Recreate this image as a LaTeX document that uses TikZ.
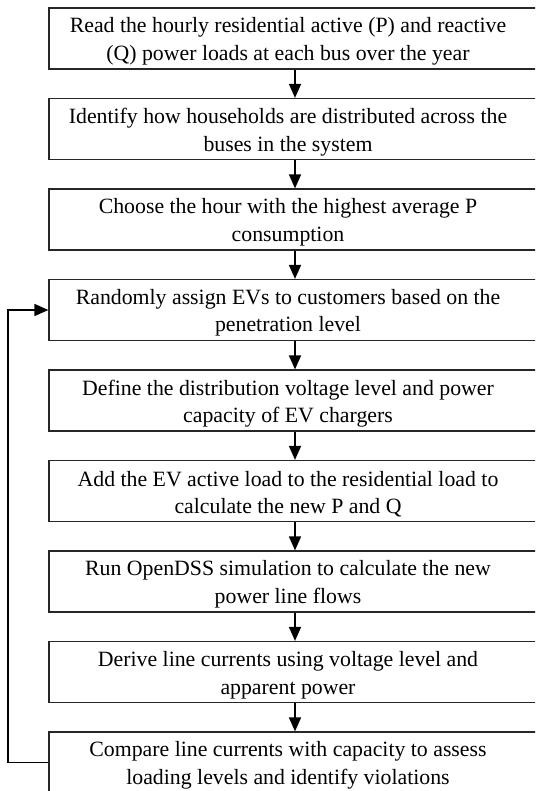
\documentclass[tikz,border=0pt]{standalone}
\usepackage{fontspec}
\setmainfont{Liberation Serif}
\usetikzlibrary{arrows.meta}
\begin{document}
\begin{tikzpicture}[x=1pt,y=1pt,
  stepbox/.style={draw=black!85,line width=1.2pt,minimum width=492pt,minimum height=61pt,
    inner sep=0pt},
  steptext/.style={align=center,inner sep=0pt,xshift=-7pt,yshift=-3pt,font=\fontsize{21.8}{27.5}\selectfont},
  flow/.style={line width=1.6pt,-{Triangle[width=12pt,length=14pt]}}]
\useasboundingbox (0,0) rectangle (535,-791);
\clip (0,0) rectangle (535,-791);
\fill[white] (0,0) rectangle (535,-791);
\node[stepbox,label={[steptext]center:Read the hourly residential active (P) and reactive\\(Q) power loads at each bus over the year}] (b1) at (295,-38.5) {};
\node[stepbox,label={[steptext]center:Identify how households are distributed across the\\buses in the system}] (b2) at (295,-129) {};
\node[stepbox,label={[steptext]center:Choose the hour with the highest average P\\consumption}] (b3) at (295,-219.5) {};
\node[stepbox,label={[steptext]center:Randomly assign EVs to customers based on the\\penetration level}] (b4) at (295,-310) {};
\node[stepbox,label={[steptext]center:Define the distribution voltage level and power\\capacity of EV chargers}] (b5) at (295,-400.5) {};
\node[stepbox,label={[steptext]center:Add the EV active load to the residential load to\\calculate the new P and Q}] (b6) at (295,-491) {};
\node[stepbox,label={[steptext]center:Run OpenDSS simulation to calculate the new\\power line flows}] (b7) at (295,-581.5) {};
\node[stepbox,label={[steptext]center:Derive line currents using voltage level and\\apparent power}] (b8) at (295,-672) {};
\node[stepbox,label={[steptext]center:Compare line currents with capacity to assess\\loading levels and identify violations}] (b9) at (295,-762.5) {};
\foreach \a/\b in {b1/b2,b2/b3,b3/b4,b4/b5,b5/b6,b6/b7,b7/b8,b8/b9}
  \draw[flow] (\a.south) -- (\b.north);
\coordinate (c1) at (8,-762.5);
\coordinate (c2) at (8,-310);
\draw[flow] (b9.west) -- (c1) -- (c2) -- (b4.west);
\end{tikzpicture}
\end{document}
